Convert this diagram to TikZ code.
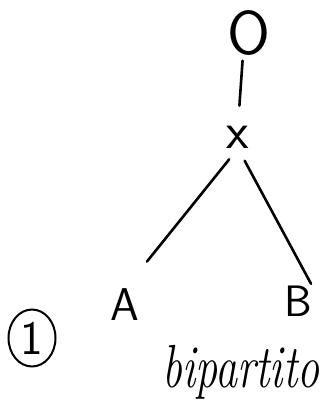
\documentclass[tikz,border=0pt]{standalone}
\usepackage{tikz}
\usetikzlibrary{shapes.geometric}
\begin{document}
\begin{tikzpicture}[x=1pt,y=-1pt,
  letter/.style={font=\sffamily\fontsize{46}{46}\selectfont,inner sep=0pt},
  stroke/.style={line width=2.6pt,line cap=round}]
\useasboundingbox (0,0) rectangle (324,408);
\node[letter,font=\sffamily\fontsize{62}{62}\selectfont] (O) at (249,33) {O};
\node[letter,font=\sffamily\fontsize{52}{52}\selectfont] (x) at (238,137) {x};
\node[letter] (A) at (125,305) {A};
\node[letter,font=\sffamily\fontsize{44}{44}\selectfont] (B) at (298,301) {B};
\node[draw,ellipse,line width=2pt,minimum width=47pt,minimum height=57pt,
  inner sep=0pt,font=\sffamily\fontsize{48}{48}\selectfont] (one) at (32,338) {1};
\node[anchor=base,font=\itshape\fontsize{42}{42}\selectfont] (bip) at (241,387)
  {\scalebox{1.05}[1.45]{bipartito}};
\draw[stroke,shorten <=5pt,shorten >=20pt] (O.-105) -- (x.north);
\draw[stroke,shorten <=14pt,shorten >=35pt] (x.south) -- (A.north);
\draw[stroke,shorten <=14pt,shorten >=2pt] (x.south) -- (B.north east);
\end{tikzpicture}
\end{document}
